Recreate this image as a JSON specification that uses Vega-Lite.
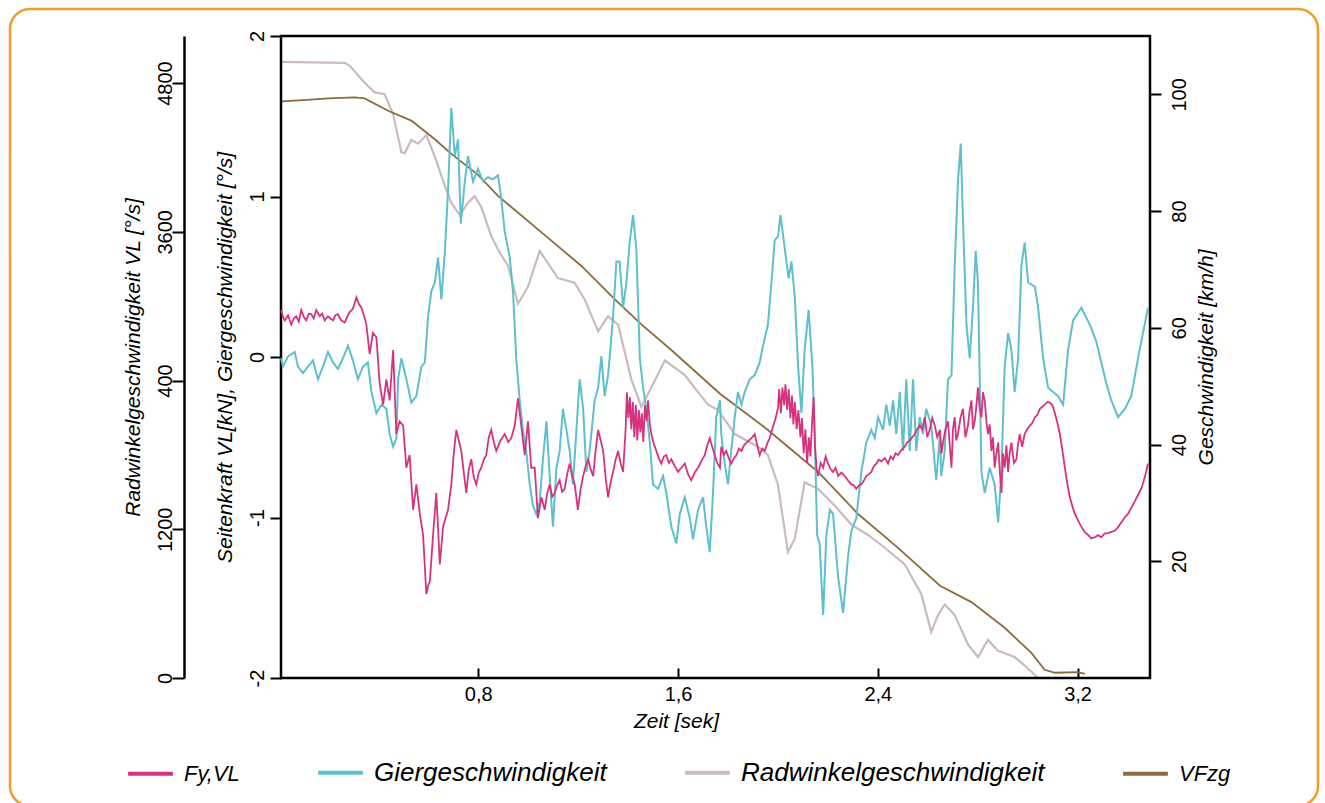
{
  "$schema": "https://vega.github.io/schema/vega-lite/v6.json",
  "width": 1308,
  "height": 797,
  "autosize": {"type": "none"},
  "padding": {"left": 10, "top": 9, "right": 7, "bottom": -3},
  "background": "white",
  "view": {"stroke": "#F39A2B", "strokeWidth": 2.5, "cornerRadius": 20},
  "config": {
    "font": "Liberation Sans",
    "axis": {"grid": false, "domainColor": "black", "tickColor": "black", "labelColor": "black", "titleColor": "black", "labelFont": "Liberation Sans", "titleFont": "Liberation Sans", "labelFontSize": 20, "titleFontSize": 21, "titleFontStyle": "italic", "titleFontWeight": "normal", "tickWidth": 2, "domainWidth": 2.5, "labelOverlap": false, "labelFlush": false}
  },
  "datasets": {
    "speed": [
      {"t":0.01,"v":98.8},{"t":0.1,"v":99.0},{"t":0.2,"v":99.3},{"t":0.305,"v":99.5},{"t":0.345,"v":99.3},{"t":0.439,"v":97.2},{"t":0.532,"v":95.5},{"t":0.626,"v":92.3},{"t":0.692,"v":89.8},{"t":0.799,"v":86.2},{"t":0.879,"v":82.6},{"t":1.052,"v":76.4},{"t":1.213,"v":70.6},{"t":1.346,"v":64.9},{"t":1.453,"v":60.6},{"t":1.573,"v":56.2},{"t":1.768,"v":48.7},{"t":1.96,"v":42.5},{"t":2.161,"v":35.3},{"t":2.321,"v":28.1},{"t":2.481,"v":22.3},{"t":2.649,"v":15.8},{"t":2.775,"v":13.0},{"t":2.908,"v":8.6},{"t":3.015,"v":4.3},{"t":3.068,"v":1.4},{"t":3.109,"v":0.9},{"t":3.202,"v":1.0},{"t":3.229,"v":0.7}
    ],
    "rad": [
      {"t":0.01,"v":4972},{"t":0.265,"v":4963},{"t":0.285,"v":4939},{"t":0.345,"v":4803},{"t":0.385,"v":4725},{"t":0.425,"v":4711},{"t":0.459,"v":4550},{"t":0.492,"v":4243},{"t":0.505,"v":4233},{"t":0.532,"v":4340},{"t":0.559,"v":4311},{"t":0.592,"v":4379},{"t":0.626,"v":4209},{"t":0.666,"v":3971},{"t":0.692,"v":3835},{"t":0.726,"v":3735},{"t":0.759,"v":3835},{"t":0.786,"v":3888},{"t":0.812,"v":3801},{"t":0.852,"v":3566},{"t":0.887,"v":3428},{"t":0.919,"v":3326},{"t":0.959,"v":3020},{"t":0.999,"v":3157},{"t":1.046,"v":3445},{"t":1.119,"v":3227},{"t":1.186,"v":3190},{"t":1.226,"v":3054},{"t":1.28,"v":2799},{"t":1.32,"v":2920},{"t":1.36,"v":2851},{"t":1.413,"v":2410},{"t":1.453,"v":2189},{"t":1.493,"v":2342},{"t":1.547,"v":2562},{"t":1.627,"v":2444},{"t":1.68,"v":2307},{"t":1.72,"v":2206},{"t":1.76,"v":2162},{"t":1.827,"v":1968},{"t":1.92,"v":1866},{"t":1.96,"v":1799},{"t":2.0,"v":1561},{"t":2.04,"v":1016},{"t":2.067,"v":1121},{"t":2.107,"v":1578},{"t":2.161,"v":1526},{"t":2.227,"v":1391},{"t":2.294,"v":1238},{"t":2.361,"v":1154},{"t":2.428,"v":1051},{"t":2.508,"v":916},{"t":2.574,"v":678},{"t":2.614,"v":372},{"t":2.641,"v":508},{"t":2.668,"v":593},{"t":2.708,"v":508},{"t":2.761,"v":270},{"t":2.801,"v":169},{"t":2.841,"v":307},{"t":2.881,"v":219},{"t":2.948,"v":169},{"t":2.988,"v":101},{"t":3.042,"v":0}
    ],
    "gier": [
      {"t":0.01,"v":-0.008},{"t":0.018,"v":-0.06},{"t":0.038,"v":0.004},{"t":0.065,"v":0.031},{"t":0.078,"v":-0.06},{"t":0.098,"v":-0.1},{"t":0.118,"v":-0.06},{"t":0.138,"v":-0.021},{"t":0.158,"v":-0.139},{"t":0.178,"v":-0.06},{"t":0.198,"v":0.031},{"t":0.218,"v":-0.034},{"t":0.238,"v":-0.074},{"t":0.258,"v":-0.008},{"t":0.278,"v":0.07},{"t":0.298,"v":-0.021},{"t":0.318,"v":-0.139},{"t":0.338,"v":-0.06},{"t":0.358,"v":-0.034},{"t":0.372,"v":-0.218},{"t":0.392,"v":-0.349},{"t":0.412,"v":-0.297},{"t":0.432,"v":-0.323},{"t":0.445,"v":-0.48},{"t":0.459,"v":-0.559},{"t":0.472,"v":-0.506},{"t":0.479,"v":-0.139},{"t":0.492,"v":-0.008},{"t":0.512,"v":-0.139},{"t":0.532,"v":-0.284},{"t":0.552,"v":-0.244},{"t":0.572,"v":-0.06},{"t":0.586,"v":-0.034},{"t":0.599,"v":0.254},{"t":0.612,"v":0.411},{"t":0.626,"v":0.464},{"t":0.639,"v":0.621},{"t":0.652,"v":0.359},{"t":0.666,"v":0.648},{"t":0.679,"v":1.041},{"t":0.692,"v":1.552},{"t":0.706,"v":1.251},{"t":0.719,"v":1.356},{"t":0.73,"v":0.831},{"t":0.746,"v":1.094},{"t":0.759,"v":1.251},{"t":0.779,"v":1.094},{"t":0.799,"v":1.172},{"t":0.819,"v":1.094},{"t":0.839,"v":1.12},{"t":0.859,"v":1.107},{"t":0.879,"v":1.133},{"t":0.892,"v":0.988},{"t":0.906,"v":0.779},{"t":0.926,"v":0.621},{"t":0.939,"v":0.411},{"t":0.952,"v":-0.008},{"t":0.966,"v":-0.27},{"t":0.979,"v":-0.454},{"t":0.992,"v":-0.585},{"t":1.006,"v":-0.794},{"t":1.019,"v":-0.926},{"t":1.032,"v":-0.978},{"t":1.046,"v":-0.9},{"t":1.059,"v":-0.637},{"t":1.073,"v":-0.401},{"t":1.086,"v":-0.742},{"t":1.099,"v":-1.057},{"t":1.113,"v":-0.69},{"t":1.126,"v":-0.585},{"t":1.139,"v":-0.323},{"t":1.153,"v":-0.454},{"t":1.166,"v":-0.585},{"t":1.179,"v":-0.794},{"t":1.193,"v":-0.454},{"t":1.206,"v":-0.139},{"t":1.22,"v":-0.323},{"t":1.233,"v":-0.716},{"t":1.246,"v":-0.585},{"t":1.266,"v":-0.27},{"t":1.28,"v":-0.191},{"t":1.293,"v":0.005},{"t":1.306,"v":-0.244},{"t":1.32,"v":-0.113},{"t":1.34,"v":0.254},{"t":1.353,"v":0.595},{"t":1.366,"v":0.595},{"t":1.38,"v":0.307},{"t":1.393,"v":0.464},{"t":1.407,"v":0.727},{"t":1.42,"v":0.884},{"t":1.433,"v":0.674},{"t":1.447,"v":-0.008},{"t":1.46,"v":-0.191},{"t":1.473,"v":-0.323},{"t":1.487,"v":-0.533},{"t":1.5,"v":-0.794},{"t":1.52,"v":-0.821},{"t":1.54,"v":-0.742},{"t":1.553,"v":-0.847},{"t":1.573,"v":-1.057},{"t":1.593,"v":-1.162},{"t":1.607,"v":-0.978},{"t":1.627,"v":-0.874},{"t":1.647,"v":-1.004},{"t":1.66,"v":-1.136},{"t":1.68,"v":-0.952},{"t":1.7,"v":-0.874},{"t":1.713,"v":-1.057},{"t":1.727,"v":-1.214},{"t":1.74,"v":-0.847},{"t":1.753,"v":-0.375},{"t":1.768,"v":-0.27},{"t":1.773,"v":-0.48},{"t":1.787,"v":-0.664},{"t":1.8,"v":-0.794},{"t":1.813,"v":-0.585},{"t":1.827,"v":-0.375},{"t":1.84,"v":-0.218},{"t":1.854,"v":-0.297},{"t":1.867,"v":-0.218},{"t":1.887,"v":-0.139},{"t":1.907,"v":-0.113},{"t":1.927,"v":-0.034},{"t":1.94,"v":0.07},{"t":1.96,"v":0.202},{"t":1.974,"v":0.464},{"t":1.987,"v":0.727},{"t":2.001,"v":0.753},{"t":2.01,"v":0.884},{"t":2.021,"v":0.753},{"t":2.034,"v":0.595},{"t":2.043,"v":0.49},{"t":2.054,"v":0.595},{"t":2.067,"v":0.385},{"t":2.081,"v":-0.06},{"t":2.094,"v":-0.349},{"t":2.107,"v":0.044},{"t":2.123,"v":0.293},{"t":2.138,"v":-0.06},{"t":2.147,"v":-0.454},{"t":2.157,"v":-1.109},{"t":2.167,"v":-1.162},{"t":2.181,"v":-1.608},{"t":2.194,"v":-1.109},{"t":2.208,"v":-0.952},{"t":2.221,"v":-0.978},{"t":2.241,"v":-1.372},{"t":2.261,"v":-1.594},{"t":2.281,"v":-1.24},{"t":2.294,"v":-1.083},{"t":2.314,"v":-1.004},{"t":2.334,"v":-0.716},{"t":2.354,"v":-0.533},{"t":2.374,"v":-0.454},{"t":2.388,"v":-0.506},{"t":2.401,"v":-0.375},{"t":2.421,"v":-0.454},{"t":2.434,"v":-0.297},{"t":2.448,"v":-0.427},{"t":2.461,"v":-0.27},{"t":2.474,"v":-0.48},{"t":2.488,"v":-0.218},{"t":2.501,"v":-0.585},{"t":2.514,"v":-0.139},{"t":2.528,"v":-0.585},{"t":2.541,"v":-0.139},{"t":2.554,"v":-0.585},{"t":2.568,"v":-0.375},{"t":2.581,"v":-0.48},{"t":2.594,"v":-0.323},{"t":2.614,"v":-0.427},{"t":2.634,"v":-0.768},{"t":2.649,"v":-0.48},{"t":2.654,"v":-0.742},{"t":2.668,"v":-0.585},{"t":2.681,"v":-0.139},{"t":2.695,"v":-0.113},{"t":2.708,"v":0.569},{"t":2.721,"v":1.094},{"t":2.732,"v":1.33},{"t":2.741,"v":0.857},{"t":2.755,"v":0.202},{"t":2.768,"v":-0.008},{"t":2.781,"v":0.307},{"t":2.792,"v":0.66},{"t":2.801,"v":0.464},{"t":2.815,"v":-0.716},{"t":2.828,"v":-0.847},{"t":2.848,"v":-0.69},{"t":2.868,"v":-0.794},{"t":2.882,"v":-1.031},{"t":2.895,"v":-0.716},{"t":2.908,"v":-0.06},{"t":2.922,"v":0.15},{"t":2.935,"v":0.044},{"t":2.948,"v":-0.218},{"t":2.962,"v":-0.008},{"t":2.975,"v":0.569},{"t":2.988,"v":0.713},{"t":3.002,"v":0.464},{"t":3.029,"v":0.438},{"t":3.042,"v":0.307},{"t":3.062,"v":-0.008},{"t":3.082,"v":-0.191},{"t":3.102,"v":-0.218},{"t":3.122,"v":-0.244},{"t":3.142,"v":-0.297},{"t":3.162,"v":0.044},{"t":3.182,"v":0.228},{"t":3.215,"v":0.307},{"t":3.249,"v":0.202},{"t":3.275,"v":0.097},{"t":3.295,"v":-0.034},{"t":3.315,"v":-0.165},{"t":3.335,"v":-0.27},{"t":3.362,"v":-0.375},{"t":3.389,"v":-0.323},{"t":3.415,"v":-0.244},{"t":3.442,"v":-0.008},{"t":3.462,"v":0.15},{"t":3.482,"v":0.307}
    ],
    "fy": [
      {"t":0.011,"v":0.293},{"t":0.018,"v":0.25},{"t":0.025,"v":0.228},{"t":0.038,"v":0.26},{"t":0.051,"v":0.202},{"t":0.061,"v":0.24},{"t":0.071,"v":0.254},{"t":0.081,"v":0.22},{"t":0.091,"v":0.293},{"t":0.101,"v":0.25},{"t":0.111,"v":0.228},{"t":0.121,"v":0.27},{"t":0.131,"v":0.267},{"t":0.141,"v":0.24},{"t":0.151,"v":0.293},{"t":0.165,"v":0.254},{"t":0.175,"v":0.27},{"t":0.185,"v":0.228},{"t":0.198,"v":0.254},{"t":0.208,"v":0.24},{"t":0.218,"v":0.228},{"t":0.228,"v":0.26},{"t":0.238,"v":0.267},{"t":0.25,"v":0.23},{"t":0.265,"v":0.215},{"t":0.275,"v":0.25},{"t":0.285,"v":0.28},{"t":0.298,"v":0.3},{"t":0.312,"v":0.372},{"t":0.322,"v":0.33},{"t":0.332,"v":0.307},{"t":0.342,"v":0.26},{"t":0.352,"v":0.202},{"t":0.365,"v":0.019},{"t":0.378,"v":0.15},{"t":0.392,"v":0.123},{"t":0.405,"v":-0.165},{"t":0.419,"v":-0.297},{"t":0.432,"v":-0.139},{"t":0.445,"v":-0.27},{"t":0.459,"v":0.044},{"t":0.472,"v":-0.48},{"t":0.485,"v":-0.401},{"t":0.499,"v":-0.427},{"t":0.512,"v":-0.69},{"t":0.525,"v":-0.611},{"t":0.539,"v":-0.952},{"t":0.552,"v":-0.794},{"t":0.566,"v":-0.978},{"t":0.579,"v":-1.109},{"t":0.592,"v":-1.477},{"t":0.6,"v":-1.42},{"t":0.606,"v":-1.398},{"t":0.619,"v":-1.109},{"t":0.632,"v":-0.847},{"t":0.646,"v":-1.293},{"t":0.659,"v":-1.057},{"t":0.679,"v":-0.952},{"t":0.692,"v":-0.794},{"t":0.702,"v":-0.6},{"t":0.712,"v":-0.454},{"t":0.722,"v":-0.52},{"t":0.732,"v":-0.585},{"t":0.742,"v":-0.72},{"t":0.752,"v":-0.847},{"t":0.762,"v":-0.7},{"t":0.772,"v":-0.637},{"t":0.782,"v":-0.75},{"t":0.792,"v":-0.794},{"t":0.802,"v":-0.72},{"t":0.812,"v":-0.69},{"t":0.822,"v":-0.64},{"t":0.832,"v":-0.611},{"t":0.842,"v":-0.5},{"t":0.852,"v":-0.454},{"t":0.862,"v":-0.53},{"t":0.872,"v":-0.585},{"t":0.889,"v":-0.52},{"t":0.906,"v":-0.48},{"t":0.92,"v":-0.53},{"t":0.932,"v":-0.506},{"t":0.946,"v":-0.427},{"t":0.959,"v":-0.257},{"t":0.972,"v":-0.427},{"t":0.986,"v":-0.611},{"t":0.999,"v":-0.401},{"t":1.012,"v":-0.69},{"t":1.026,"v":-0.69},{"t":1.039,"v":-1.004},{"t":1.053,"v":-0.874},{"t":1.066,"v":-0.952},{"t":1.076,"v":-0.85},{"t":1.086,"v":-0.794},{"t":1.096,"v":-0.87},{"t":1.106,"v":-0.847},{"t":1.116,"v":-0.8},{"t":1.126,"v":-0.768},{"t":1.136,"v":-0.84},{"t":1.146,"v":-0.821},{"t":1.156,"v":-0.73},{"t":1.166,"v":-0.664},{"t":1.176,"v":-0.74},{"t":1.186,"v":-0.794},{"t":1.199,"v":-0.952},{"t":1.21,"v":-0.82},{"t":1.22,"v":-0.742},{"t":1.23,"v":-0.68},{"t":1.24,"v":-0.637},{"t":1.25,"v":-0.7},{"t":1.26,"v":-0.742},{"t":1.27,"v":-0.58},{"t":1.28,"v":-0.454},{"t":1.29,"v":-0.52},{"t":1.3,"v":-0.585},{"t":1.31,"v":-0.75},{"t":1.32,"v":-0.874},{"t":1.33,"v":-0.78},{"t":1.34,"v":-0.716},{"t":1.35,"v":-0.64},{"t":1.36,"v":-0.585},{"t":1.37,"v":-0.66},{"t":1.38,"v":-0.716},{"t":1.39,"v":-0.45},{"t":1.395,"v":-0.22},{"t":1.401,"v":-0.38},{"t":1.407,"v":-0.25},{"t":1.413,"v":-0.45},{"t":1.419,"v":-0.28},{"t":1.425,"v":-0.5},{"t":1.431,"v":-0.3},{"t":1.437,"v":-0.52},{"t":1.443,"v":-0.33},{"t":1.449,"v":-0.47},{"t":1.455,"v":-0.35},{"t":1.461,"v":-0.53},{"t":1.467,"v":-0.3},{"t":1.474,"v":-0.4},{"t":1.48,"v":-0.27},{"t":1.487,"v":-0.42},{"t":1.493,"v":-0.48},{"t":1.503,"v":-0.54},{"t":1.513,"v":-0.585},{"t":1.523,"v":-0.63},{"t":1.533,"v":-0.664},{"t":1.543,"v":-0.62},{"t":1.553,"v":-0.611},{"t":1.563,"v":-0.66},{"t":1.573,"v":-0.637},{"t":1.587,"v":-0.68},{"t":1.6,"v":-0.716},{"t":1.613,"v":-0.69},{"t":1.627,"v":-0.664},{"t":1.64,"v":-0.73},{"t":1.653,"v":-0.768},{"t":1.667,"v":-0.72},{"t":1.68,"v":-0.69},{"t":1.693,"v":-0.65},{"t":1.707,"v":-0.611},{"t":1.717,"v":-0.55},{"t":1.727,"v":-0.506},{"t":1.737,"v":-0.56},{"t":1.747,"v":-0.611},{"t":1.757,"v":-0.66},{"t":1.768,"v":-0.69},{"t":1.773,"v":-0.559},{"t":1.783,"v":-0.61},{"t":1.793,"v":-0.585},{"t":1.803,"v":-0.63},{"t":1.813,"v":-0.664},{"t":1.824,"v":-0.63},{"t":1.834,"v":-0.611},{"t":1.844,"v":-0.57},{"t":1.854,"v":-0.585},{"t":1.864,"v":-0.55},{"t":1.874,"v":-0.533},{"t":1.884,"v":-0.52},{"t":1.894,"v":-0.506},{"t":1.907,"v":-0.48},{"t":1.917,"v":-0.55},{"t":1.927,"v":-0.611},{"t":1.937,"v":-0.57},{"t":1.947,"v":-0.585},{"t":1.957,"v":-0.54},{"t":1.967,"v":-0.506},{"t":1.977,"v":-0.45},{"t":1.987,"v":-0.401},{"t":1.994,"v":-0.36},{"t":2.0,"v":-0.32},{"t":2.005,"v":-0.2},{"t":2.012,"v":-0.35},{"t":2.018,"v":-0.19},{"t":2.025,"v":-0.3},{"t":2.03,"v":-0.17},{"t":2.037,"v":-0.33},{"t":2.043,"v":-0.2},{"t":2.05,"v":-0.38},{"t":2.056,"v":-0.24},{"t":2.062,"v":-0.42},{"t":2.068,"v":-0.28},{"t":2.075,"v":-0.45},{"t":2.082,"v":-0.33},{"t":2.09,"v":-0.5},{"t":2.096,"v":-0.38},{"t":2.103,"v":-0.6},{"t":2.11,"v":-0.45},{"t":2.117,"v":-0.66},{"t":2.124,"v":-0.5},{"t":2.13,"v":-0.62},{"t":2.137,"v":-0.4},{"t":2.143,"v":-0.25},{"t":2.148,"v":-0.55},{"t":2.155,"v":-0.7},{"t":2.161,"v":-0.742},{"t":2.171,"v":-0.66},{"t":2.181,"v":-0.69},{"t":2.191,"v":-0.62},{"t":2.201,"v":-0.664},{"t":2.211,"v":-0.7},{"t":2.221,"v":-0.716},{"t":2.231,"v":-0.69},{"t":2.241,"v":-0.742},{"t":2.254,"v":-0.72},{"t":2.268,"v":-0.742},{"t":2.281,"v":-0.77},{"t":2.294,"v":-0.794},{"t":2.304,"v":-0.8},{"t":2.314,"v":-0.821},{"t":2.324,"v":-0.8},{"t":2.334,"v":-0.794},{"t":2.344,"v":-0.77},{"t":2.354,"v":-0.742},{"t":2.364,"v":-0.73},{"t":2.374,"v":-0.716},{"t":2.384,"v":-0.68},{"t":2.394,"v":-0.664},{"t":2.404,"v":-0.64},{"t":2.414,"v":-0.65},{"t":2.428,"v":-0.63},{"t":2.441,"v":-0.664},{"t":2.451,"v":-0.62},{"t":2.461,"v":-0.637},{"t":2.471,"v":-0.6},{"t":2.481,"v":-0.611},{"t":2.494,"v":-0.58},{"t":2.508,"v":-0.559},{"t":2.518,"v":-0.53},{"t":2.528,"v":-0.52},{"t":2.538,"v":-0.5},{"t":2.548,"v":-0.48},{"t":2.558,"v":-0.45},{"t":2.568,"v":-0.427},{"t":2.578,"v":-0.45},{"t":2.588,"v":-0.375},{"t":2.598,"v":-0.5},{"t":2.608,"v":-0.454},{"t":2.618,"v":-0.38},{"t":2.628,"v":-0.427},{"t":2.638,"v":-0.5},{"t":2.649,"v":-0.454},{"t":2.655,"v":-0.6},{"t":2.661,"v":-0.533},{"t":2.671,"v":-0.45},{"t":2.681,"v":-0.401},{"t":2.688,"v":-0.55},{"t":2.695,"v":-0.69},{"t":2.701,"v":-0.45},{"t":2.708,"v":-0.375},{"t":2.714,"v":-0.52},{"t":2.721,"v":-0.48},{"t":2.731,"v":-0.38},{"t":2.741,"v":-0.323},{"t":2.751,"v":-0.5},{"t":2.761,"v":-0.427},{"t":2.768,"v":-0.33},{"t":2.775,"v":-0.27},{"t":2.781,"v":-0.45},{"t":2.788,"v":-0.401},{"t":2.795,"v":-0.3},{"t":2.801,"v":-0.191},{"t":2.808,"v":-0.32},{"t":2.815,"v":-0.375},{"t":2.821,"v":-0.22},{"t":2.828,"v":-0.27},{"t":2.835,"v":-0.4},{"t":2.841,"v":-0.48},{"t":2.848,"v":-0.42},{"t":2.855,"v":-0.585},{"t":2.861,"v":-0.5},{"t":2.868,"v":-0.69},{"t":2.875,"v":-0.6},{"t":2.882,"v":-0.533},{"t":2.888,"v":-0.7},{"t":2.895,"v":-0.847},{"t":2.901,"v":-0.6},{"t":2.908,"v":-0.69},{"t":2.915,"v":-0.55},{"t":2.922,"v":-0.716},{"t":2.928,"v":-0.6},{"t":2.935,"v":-0.533},{"t":2.945,"v":-0.66},{"t":2.955,"v":-0.637},{"t":2.961,"v":-0.55},{"t":2.968,"v":-0.48},{"t":2.978,"v":-0.56},{"t":2.988,"v":-0.48},{"t":2.998,"v":-0.45},{"t":3.009,"v":-0.427},{"t":3.019,"v":-0.41},{"t":3.029,"v":-0.375},{"t":3.039,"v":-0.36},{"t":3.049,"v":-0.323},{"t":3.059,"v":-0.31},{"t":3.069,"v":-0.297},{"t":3.079,"v":-0.28},{"t":3.089,"v":-0.284},{"t":3.099,"v":-0.3},{"t":3.109,"v":-0.349},{"t":3.119,"v":-0.41},{"t":3.129,"v":-0.48},{"t":3.139,"v":-0.58},{"t":3.149,"v":-0.69},{"t":3.159,"v":-0.79},{"t":3.169,"v":-0.874},{"t":3.179,"v":-0.93},{"t":3.189,"v":-0.978},{"t":3.202,"v":-1.02},{"t":3.215,"v":-1.057},{"t":3.228,"v":-1.09},{"t":3.242,"v":-1.109},{"t":3.255,"v":-1.13},{"t":3.269,"v":-1.123},{"t":3.282,"v":-1.11},{"t":3.295,"v":-1.123},{"t":3.308,"v":-1.1},{"t":3.322,"v":-1.097},{"t":3.335,"v":-1.09},{"t":3.349,"v":-1.083},{"t":3.362,"v":-1.06},{"t":3.375,"v":-1.031},{"t":3.389,"v":-1.0},{"t":3.402,"v":-0.978},{"t":3.415,"v":-0.94},{"t":3.429,"v":-0.9},{"t":3.442,"v":-0.86},{"t":3.455,"v":-0.821},{"t":3.469,"v":-0.75},{"t":3.482,"v":-0.664}
    ]
  },
  "layer": [
    {
      "data": {"name": "rad"},
      "mark": {"type": "line", "strokeWidth": 2.2, "interpolate": "linear"},
      "encoding": {
        "x": {"field": "t", "type": "quantitative", "scale": {"domain": [0.01, 3.49], "range": [271, 1140], "nice": false, "zero": false}, "axis": {"orient": "bottom", "offset": -128, "values": [0.8, 1.6, 2.4, 3.2], "labelExpr": "replace(format(datum.value, '.1f'), '.', ',')", "tickSize": -10, "labelPadding": 16, "domain": false, "title": "Zeit [sek]", "titleX": 666, "titlePadding": 6}},
        "y": {"field": "v", "type": "quantitative", "scale": {"domain": [0, 5180], "range": [669, 27], "nice": false, "zero": false}, "axis": {"orient": "left", "offset": -174, "values": [0, 1200, 2400, 3600, 4800], "labelExpr": "datum.value == 2400 ? '400' : '' + datum.value", "labelAngle": 270, "labelAlign": "center", "labelBaseline": "bottom", "labelPadding": -3, "tickSize": 12, "domain": true, "title": "Radwinkelgeschwindigkeit VL [°/s]", "titlePadding": 12}},
        "color": {"datum": "Radwinkelgeschwindigkeit", "type": "nominal", "scale": {"domain": ["Fy,VL", "Giergeschwindigkeit", "Radwinkelgeschwindigkeit", "VFzg"], "range": ["#D6337F", "#5FBFCC", "#C9BBC0", "#8C6B3E"]}, "legend": {"orient": "none", "legendX": 116, "legendY": 739, "direction": "horizontal", "title": null, "symbolType": "stroke", "symbolSize": 2000, "symbolStrokeWidth": 4, "labelFont": "Liberation Sans", "labelFontSize": 26, "labelFontStyle": "italic", "labelColor": "black", "labelOffset": 9, "columnPadding": 70, "labelLimit": 0, "encode": {"labels": {"update": {"fontSize": {"signal": "datum.label == 'Fy,VL' || datum.label == 'VFzg' ? 22 : 26"}}}}}}
      }
    },
    {
      "data": {"name": "speed"},
      "mark": {"type": "line", "strokeWidth": 1.8, "interpolate": "linear"},
      "encoding": {
        "x": {"field": "t", "type": "quantitative", "scale": {"domain": [0.01, 3.49], "range": [271, 1140], "nice": false, "zero": false}, "axis": {"orient": "bottom", "offset": -128, "values": [0.8, 1.6, 2.4, 3.2], "labelExpr": "replace(format(datum.value, '.1f'), '.', ',')", "tickSize": -10, "labelPadding": 16, "domain": false, "title": "Zeit [sek]", "titleX": 666, "titlePadding": 6}},
        "y": {"field": "v", "type": "quantitative", "scale": {"domain": [0, 110], "range": [669, 27], "nice": false, "zero": false}, "axis": {"orient": "right", "offset": -168, "values": [20, 40, 60, 80, 100], "labelExpr": "'' + datum.value", "labelAngle": 270, "labelAlign": "center", "labelBaseline": "top", "labelPadding": 8, "tickSize": 11, "domain": false, "title": "Geschwindigkeit [km/h]", "titleAngle": 270, "titleBaseline": "top", "titlePadding": 6}},
        "color": {"datum": "VFzg", "type": "nominal", "scale": {"domain": ["Fy,VL", "Giergeschwindigkeit", "Radwinkelgeschwindigkeit", "VFzg"], "range": ["#D6337F", "#5FBFCC", "#C9BBC0", "#8C6B3E"]}, "legend": {"orient": "none", "legendX": 116, "legendY": 739, "direction": "horizontal", "title": null, "symbolType": "stroke", "symbolSize": 2000, "symbolStrokeWidth": 4, "labelFont": "Liberation Sans", "labelFontSize": 26, "labelFontStyle": "italic", "labelColor": "black", "labelOffset": 9, "columnPadding": 70, "labelLimit": 0, "encode": {"labels": {"update": {"fontSize": {"signal": "datum.label == 'Fy,VL' || datum.label == 'VFzg' ? 22 : 26"}}}}}}
      }
    },
    {
      "layer": [
        {
          "data": {"values": [{}]},
          "mark": {"type": "rect", "fillOpacity": 0, "fill": "white", "stroke": "black", "strokeWidth": 2.5},
          "encoding": {
            "x": {"datum": 0.01, "type": "quantitative", "scale": {"domain": [0.01, 3.49], "range": [271, 1140], "nice": false, "zero": false}, "axis": {"orient": "bottom", "offset": -128, "values": [0.8, 1.6, 2.4, 3.2], "labelExpr": "replace(format(datum.value, '.1f'), '.', ',')", "tickSize": -10, "labelPadding": 16, "domain": false, "title": "Zeit [sek]", "titleX": 666, "titlePadding": 6}},
            "x2": {"datum": 3.49},
            "y": {"datum": -2, "type": "quantitative", "scale": {"domain": [-2, 2], "range": [669, 27], "nice": false, "zero": false}, "axis": {"orient": "left", "offset": -271, "values": [-2, -1, 0, 1, 2], "labelExpr": "'' + datum.value", "labelAngle": 270, "labelAlign": "center", "labelBaseline": "bottom", "labelPadding": 3, "tickSize": 11, "domain": false, "title": "Seitenkraft VL[kN], Giergeschwindigkeit [°/s]", "titlePadding": 12}},
            "y2": {"datum": 2}
          }
        },
        {
          "data": {"name": "gier"},
          "mark": {"type": "line", "strokeWidth": 2, "interpolate": "linear"},
          "encoding": {
            "x": {"field": "t", "type": "quantitative", "scale": {"domain": [0.01, 3.49], "range": [271, 1140], "nice": false, "zero": false}, "axis": {"orient": "bottom", "offset": -128, "values": [0.8, 1.6, 2.4, 3.2], "labelExpr": "replace(format(datum.value, '.1f'), '.', ',')", "tickSize": -10, "labelPadding": 16, "domain": false, "title": "Zeit [sek]", "titleX": 666, "titlePadding": 6}},
            "y": {"field": "v", "type": "quantitative", "scale": {"domain": [-2, 2], "range": [669, 27], "nice": false, "zero": false}, "axis": {"orient": "left", "offset": -271, "values": [-2, -1, 0, 1, 2], "labelExpr": "'' + datum.value", "labelAngle": 270, "labelAlign": "center", "labelBaseline": "bottom", "labelPadding": 3, "tickSize": 11, "domain": false, "title": "Seitenkraft VL[kN], Giergeschwindigkeit [°/s]", "titlePadding": 12}},
            "color": {"datum": "Giergeschwindigkeit", "type": "nominal", "scale": {"domain": ["Fy,VL", "Giergeschwindigkeit", "Radwinkelgeschwindigkeit", "VFzg"], "range": ["#D6337F", "#5FBFCC", "#C9BBC0", "#8C6B3E"]}, "legend": {"orient": "none", "legendX": 116, "legendY": 739, "direction": "horizontal", "title": null, "symbolType": "stroke", "symbolSize": 2000, "symbolStrokeWidth": 4, "labelFont": "Liberation Sans", "labelFontSize": 26, "labelFontStyle": "italic", "labelColor": "black", "labelOffset": 9, "columnPadding": 70, "labelLimit": 0, "encode": {"labels": {"update": {"fontSize": {"signal": "datum.label == 'Fy,VL' || datum.label == 'VFzg' ? 22 : 26"}}}}}}
          }
        },
        {
          "data": {"name": "fy"},
          "mark": {"type": "line", "strokeWidth": 1.8, "interpolate": "linear"},
          "encoding": {
            "x": {"field": "t", "type": "quantitative", "scale": {"domain": [0.01, 3.49], "range": [271, 1140], "nice": false, "zero": false}, "axis": {"orient": "bottom", "offset": -128, "values": [0.8, 1.6, 2.4, 3.2], "labelExpr": "replace(format(datum.value, '.1f'), '.', ',')", "tickSize": -10, "labelPadding": 16, "domain": false, "title": "Zeit [sek]", "titleX": 666, "titlePadding": 6}},
            "y": {"field": "v", "type": "quantitative", "scale": {"domain": [-2, 2], "range": [669, 27], "nice": false, "zero": false}, "axis": {"orient": "left", "offset": -271, "values": [-2, -1, 0, 1, 2], "labelExpr": "'' + datum.value", "labelAngle": 270, "labelAlign": "center", "labelBaseline": "bottom", "labelPadding": 3, "tickSize": 11, "domain": false, "title": "Seitenkraft VL[kN], Giergeschwindigkeit [°/s]", "titlePadding": 12}},
            "color": {"datum": "Fy,VL", "type": "nominal", "scale": {"domain": ["Fy,VL", "Giergeschwindigkeit", "Radwinkelgeschwindigkeit", "VFzg"], "range": ["#D6337F", "#5FBFCC", "#C9BBC0", "#8C6B3E"]}, "legend": {"orient": "none", "legendX": 116, "legendY": 739, "direction": "horizontal", "title": null, "symbolType": "stroke", "symbolSize": 2000, "symbolStrokeWidth": 4, "labelFont": "Liberation Sans", "labelFontSize": 26, "labelFontStyle": "italic", "labelColor": "black", "labelOffset": 9, "columnPadding": 70, "labelLimit": 0, "encode": {"labels": {"update": {"fontSize": {"signal": "datum.label == 'Fy,VL' || datum.label == 'VFzg' ? 22 : 26"}}}}}}
          }
        }
      ]
    }
  ],
  "resolve": {"scale": {"y": "independent"}, "axis": {"y": "independent"}}
}
